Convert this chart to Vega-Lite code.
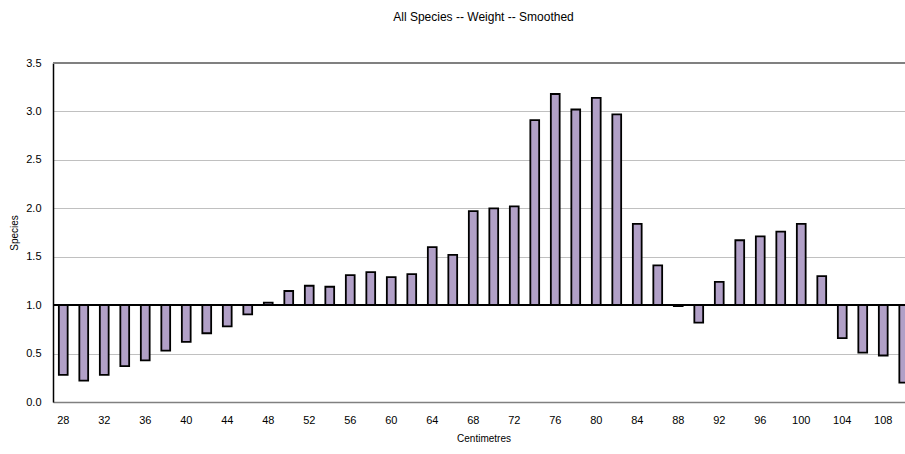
{
  "$schema": "https://vega.github.io/schema/vega-lite/v6.json",
  "autosize": "none",
  "padding": {"left": 53, "top": 63, "right": 0, "bottom": 52},
  "width": 861,
  "height": 339,
  "background": "white",
  "config": {
    "font": "Liberation Sans",
    "view": {"stroke": null},
    "axis": {"labelFont": "Liberation Sans", "titleFont": "Liberation Sans", "labelColor": "#000000", "titleColor": "#000000"}
  },
  "title": {"text": "All Species -- Weight -- Smoothed", "fontSize": 12, "fontWeight": "normal", "font": "Liberation Sans", "color": "#000000", "offset": 33, "anchor": "middle"},
  "data": {
    "values": [
      {"cm": 28, "v": 0.28}, {"cm": 30, "v": 0.22}, {"cm": 32, "v": 0.28}, {"cm": 34, "v": 0.37},
      {"cm": 36, "v": 0.43}, {"cm": 38, "v": 0.53}, {"cm": 40, "v": 0.62}, {"cm": 42, "v": 0.71},
      {"cm": 44, "v": 0.78}, {"cm": 46, "v": 0.905}, {"cm": 48, "v": 1.025}, {"cm": 50, "v": 1.146},
      {"cm": 52, "v": 1.20}, {"cm": 54, "v": 1.19}, {"cm": 56, "v": 1.31}, {"cm": 58, "v": 1.34},
      {"cm": 60, "v": 1.29}, {"cm": 62, "v": 1.32}, {"cm": 64, "v": 1.60}, {"cm": 66, "v": 1.52},
      {"cm": 68, "v": 1.97}, {"cm": 70, "v": 2.00}, {"cm": 72, "v": 2.02}, {"cm": 74, "v": 2.91},
      {"cm": 76, "v": 3.18}, {"cm": 78, "v": 3.02}, {"cm": 80, "v": 3.14}, {"cm": 82, "v": 2.97},
      {"cm": 84, "v": 1.84}, {"cm": 86, "v": 1.41}, {"cm": 88, "v": 0.99}, {"cm": 90, "v": 0.82},
      {"cm": 92, "v": 1.24}, {"cm": 94, "v": 1.67}, {"cm": 96, "v": 1.71}, {"cm": 98, "v": 1.76},
      {"cm": 100, "v": 1.84}, {"cm": 102, "v": 1.30}, {"cm": 104, "v": 0.66}, {"cm": 106, "v": 0.51},
      {"cm": 108, "v": 0.48}, {"cm": 110, "v": 0.20}
    ]
  },
  "layer": [
    {
      "mark": {"type": "bar", "fill": "#b1a0c7", "stroke": "#000000", "strokeWidth": 1.8},
      "encoding": {
        "x": {
          "field": "cm", "type": "ordinal",
          "scale": {"paddingInner": 0.57, "paddingOuter": 0.285},
          "axis": {
            "values": [28, 32, 36, 40, 44, 48, 52, 56, 60, 64, 68, 72, 76, 80, 84, 88, 92, 96, 100, 104, 108],
            "labelAngle": 0, "labelFontSize": 11, "labelPadding": 12, "ticks": false,
            "domain": true, "domainColor": "#808080", "domainWidth": 1.5,
            "title": "Centimetres", "titleFontSize": 10, "titleFontWeight": "normal", "titlePadding": 8
          }
        },
        "y": {
          "field": "v", "type": "quantitative",
          "scale": {"domain": [0, 3.5], "nice": false},
          "axis": {
            "values": [0, 0.5, 1, 1.5, 2, 2.5, 3, 3.5],
            "format": ".1f", "labelFontSize": 11, "labelPadding": 12, "ticks": false,
            "domain": true, "domainColor": "#000000", "domainWidth": 1.5,
            "grid": true, "gridColor": "#c0c0c0", "gridWidth": 1.2,
            "title": "Species", "titleFontSize": 10, "titleFontWeight": "normal", "titlePadding": 6
          }
        },
        "y2": {"datum": 1}
      }
    },
    {
      "mark": {"type": "rule", "color": "#808080", "strokeWidth": 1.5},
      "encoding": {"y": {"datum": 3.5}}
    },
    {
      "mark": {"type": "rule", "color": "#000000", "strokeWidth": 1.8},
      "encoding": {"y": {"datum": 1}}
    }
  ]
}
